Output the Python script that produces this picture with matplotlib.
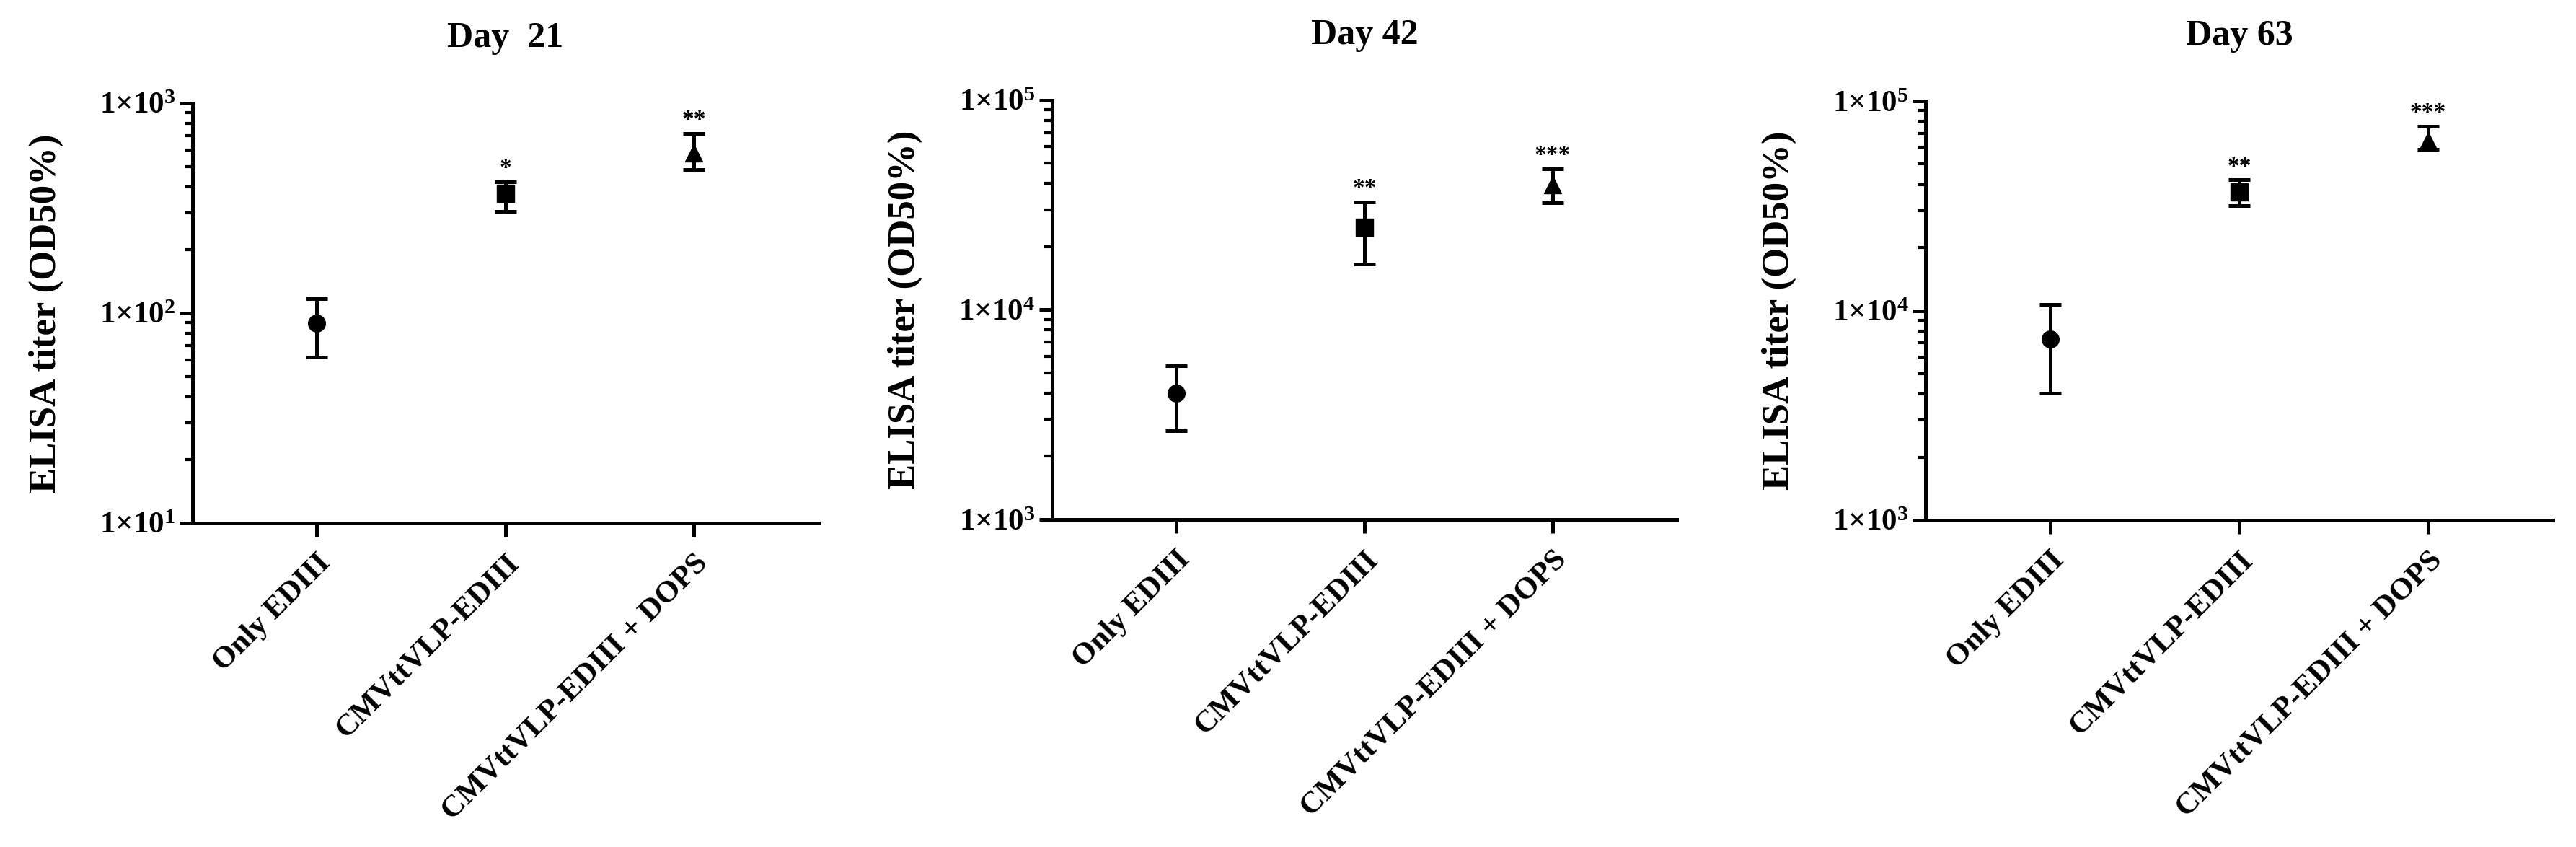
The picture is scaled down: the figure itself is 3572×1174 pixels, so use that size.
import matplotlib
matplotlib.use("Agg")
import matplotlib.pyplot as plt
import numpy as np
from matplotlib.ticker import LogLocator, FixedLocator, NullFormatter

plt.rcParams['font.family'] = ['Liberation Serif', 'DejaVu Serif']
plt.rcParams['font.weight'] = 'bold'
plt.rcParams['mathtext.fontset'] = 'custom'
plt.rcParams['mathtext.rm'] = 'Liberation Serif:bold'
plt.rcParams['mathtext.bf'] = 'Liberation Serif:bold'
plt.rcParams['mathtext.it'] = 'Liberation Serif:bold'

groups = ["Only EDIII", "CMVttVLP-EDIII", "CMVttVLP-EDIII + DOPS"]
markers = ["o", "s", "^"]

titles = ["Day  21", "Day 42", "Day 63"]

# geometric means and error bar ends
day21_mean = [89.5, 371, 580]
day21_upper = [117, 422, 717]
day21_lower = [61.7, 305, 483]

day42_mean = [4000, 24700, 39400]
day42_upper = [5410, 32600, 47100]
day42_lower = [2640, 16500, 32400]

day63_mean = [7320, 36850, 64800]
day63_upper = [10700, 42000, 76100]
day63_lower = [4020, 31770, 58600]

stars21 = ["", "*", "**"]
stars42 = ["", "**", "***"]
stars63 = ["", "**", "***"]

ylims = [(1e1, 1e3), (1e3, 1e5), (1e3, 1e5)]
yticks = [[1e1, 1e2, 1e3], [1e3, 1e4, 1e5], [1e3, 1e4, 1e5]]
ytick_labels = [
    [r"$1{\times}10^{1}$", r"$1{\times}10^{2}$", r"$1{\times}10^{3}$"],
    [r"$1{\times}10^{3}$", r"$1{\times}10^{4}$", r"$1{\times}10^{5}$"],
    [r"$1{\times}10^{3}$", r"$1{\times}10^{4}$", r"$1{\times}10^{5}$"],
]

panels = [
    (day21_mean, day21_upper, day21_lower, stars21),
    (day42_mean, day42_upper, day42_lower, stars42),
    (day63_mean, day63_upper, day63_lower, stars63),
]

# axes boxes in figure fraction
boxes = [
    [0.0747, 0.3825, 0.2429, 0.4957],
    [0.4083, 0.3867, 0.2424, 0.4953],
    [0.7473, 0.3859, 0.2435, 0.4948],
]

fig = plt.figure(figsize=(35.73, 11.74), dpi=100)

for i in range(3):
    mean, upper, lower, stars = panels[i]
    ax = fig.add_axes(boxes[i])
    x = np.arange(len(groups))
    for j in range(len(groups)):
        ax.errorbar(x[j], mean[j],
                    yerr=[[mean[j] - lower[j]], [upper[j] - mean[j]]],
                    fmt=markers[j], color='black', markersize=17,
                    elinewidth=3.6, capsize=10.5, capthick=3.6)
        if stars[j]:
            ax.annotate(stars[j], (x[j], upper[j]), xytext=(0, 2),
                        textcoords='offset points', ha='center', va='bottom',
                        fontsize=24, fontweight='bold')
    ax.set_yscale('log')
    ax.set_ylim(ylims[i])
    ax.set_xlim(-0.66, 2.66)
    ax.yaxis.set_major_locator(FixedLocator(yticks[i]))
    ax.set_yticklabels(ytick_labels[i], fontsize=31)
    ax.yaxis.set_minor_locator(LogLocator(base=10, subs=np.arange(2, 10)))
    ax.yaxis.set_minor_formatter(NullFormatter())
    ax.set_xticks(x)
    ax.set_xticklabels(groups, rotation=45, ha='right', rotation_mode='anchor',
                       fontsize=31, fontweight='bold')
    ax.spines['top'].set_visible(False)
    ax.spines['right'].set_visible(False)
    ax.spines['left'].set_linewidth(3.6)
    ax.spines['bottom'].set_linewidth(3.6)
    ax.tick_params(axis='y', which='major', length=13, width=3.6, pad=4)
    ax.tick_params(axis='y', which='minor', length=8, width=3.0)
    ax.tick_params(axis='x', which='major', length=14, width=3.6, pad=12)
    ax.set_ylabel("ELISA titer (OD50%)", fontsize=38, fontweight='bold', labelpad=36)
    ax.set_title(titles[i], fontsize=36, fontweight='bold', pad=56)

fig.savefig("out.png", dpi=100)
